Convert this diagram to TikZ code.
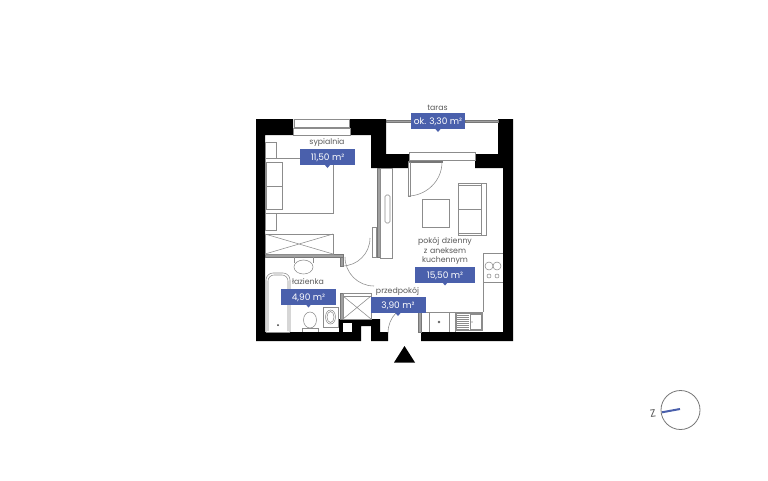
\documentclass[tikz,border=0pt]{standalone}
\usepackage{fontspec}
\setmainfont{Poppins}
\definecolor{lblue}{HTML}{4A60AC}
\definecolor{ltext}{HTML}{5A5A5A}
\definecolor{fur}{HTML}{8C8C8C}
\definecolor{partw}{HTML}{777777}
\tikzset{
  wall/.style={fill=black,draw=none},
  partition/.style={fill=partw!70!white,draw=partw,line width=.4pt},
  leaf/.style={fill=white,draw=fur,line width=.55pt},
  furn/.style={draw=fur,line width=.55pt,fill=none},
  glass/.style={draw=fur,line width=.6pt,fill=white},
  roomname/.style={text=ltext,font=\fontsize{7.8}{9.6}\selectfont,align=center,inner sep=0pt},
  areabox/.style={fill=lblue,text=white,font=\fontsize{9}{10}\selectfont,inner sep=0pt,minimum height=16pt,text depth=0pt},
  pointer/.style={fill=lblue,draw=none}
}
\newcommand{\areatag}[5]{% name, x center, y top, width, text
  \node[areabox,minimum width=#4pt,anchor=north] (#1) at (#2,#3) {#5};
  \fill[pointer] (#2-3,#3+15.5) -- (#2+3,#3+15.5) -- (#2,#3+19) -- cycle;
}
\begin{document}
\begin{tikzpicture}[x=1pt,y=-1pt]
\useasboundingbox (0,0) rectangle (768,480);
\fill[white] (0,0) rectangle (768,480);

% ---- outer walls
\fill[wall] (256,119) -- (293,119) -- (293,135) -- (265,135) -- (265,332) -- (339,332) -- (339,319) -- (380,319) -- (380,332) -- (388,332) -- (388,341) -- (371,341) -- (371,326) -- (361,326) -- (361,341) -- (256,341) -- cycle;
\fill[wall] (350,119) -- (386,119) -- (386,154) -- (409,154) -- (409,168) -- (378,168) -- (371,168) -- (371,135) -- (350,135) -- cycle;
\fill[wall] (475,154) -- (498,154) -- (498,119) -- (513,119) -- (513,341) -- (421,341) -- (421,332) -- (503,332) -- (503,168) -- (475,168) -- cycle;
\fill[white] (343,323) rectangle (352,332);

% ---- windows
\draw[glass] (294,119) rectangle (349,127);
\draw[glass] (293,128) rectangle (350,135);
\draw[glass] (409,152.5) rectangle (475,160);
\draw[partition] (408,161) rectangle (442,162);
% terrace rail
\draw[partition] (386,120) rectangle (412,122);
\draw[partition] (465,120) rectangle (498,122);

% ---- partitions
\draw[partition] (377,168) rectangle (380,257);
\draw[partition] (265,254.5) rectangle (343,257);
\draw[partition] (340,257) rectangle (343,266);
\draw[partition] (340,293) rectangle (343,319);
\draw[leaf] (343,293) rectangle (371,296);
\draw[leaf] (372.5,227) rectangle (376,257);
\draw[partition] (418,312) rectangle (421,332);
\draw[leaf] (408,162) rectangle (410.5,196);

% ---- doors
\draw[furn] (345,257) arc[start angle=180,end angle=90,radius=29] ;
\draw[furn] (342,266) arc[start angle=90,end angle=0,radius=28];
\draw[furn] (408,196) .. controls (425,196) and (442,182) .. (442,162);
\draw[furn] (388,333) .. controls (388,325) and (391,318) .. (396,313);

% ---- bedroom
\draw[furn] (265,158) rectangle (333,213);
\draw[furn] (266,162) rectangle (282,186);
\draw[furn] (266,186) rectangle (282,209);
\draw[furn] (265,142) rectangle (276,158);
\draw[furn] (265,213) rectangle (276,230);
\draw[furn] (265,234) rectangle (333,254);
\draw[furn] (265,234) -- (333,254) (265,254) -- (333,234);

% ---- wardrobe at the partition
\draw[furn] (380,168) rectangle (392,258);
\draw[furn,rounded corners=1.5pt] (385,195) rectangle (390,223);

% ---- living room
\draw[furn] (422,199) rectangle (449,227);
\draw[furn] (458,183) rectangle (486,235);
\draw[furn] (481,183) -- (481,235);
\draw[furn] (458,209) -- (481,209);
\draw[furn] (458,185) -- (481,185);
\draw[furn] (458,233) -- (481,233);

% ---- kitchen
\draw[furn] (483,253) -- (503,253);
\draw[furn] (483,253) -- (483,312);
\draw[furn] (483,282) -- (503,282);
\draw[furn] (421,312) -- (483,312);
\draw[furn] (429,312) -- (429,332);
\draw[furn] (449,312) -- (449,332);
\draw[furn] (455,312) -- (455,332);
\draw[furn] (489,266) circle[radius=4];
\draw[furn] (497,266) circle[radius=4];
\draw[furn] (489,276) circle[radius=2];
\draw[furn] (497,276) circle[radius=2];
\fill[fur!70!black] (439,322) circle[radius=1.3];
\draw[furn] (456,313) rectangle (482,330);
\draw[furn] (470,314.5) rectangle (481,329);
\foreach \ry in {315,317,...,329}{\draw[furn] (457,\ry) -- (469,\ry);}
\fill[fur!60!black] (472,322) circle[radius=.7];

% ---- bathroom
\draw[furn] (294,257) -- (294,263) (313,257) -- (313,263);
\draw[furn] (303.5,267) ellipse[x radius=9.5,y radius=7];
\draw[furn,rounded corners=7pt] (266,332) -- (266,273) -- (290,273) -- (290,332);
\draw[furn,rounded corners=6pt] (268,331) -- (268,275) -- (288,275) -- (288,331);
\draw[furn] (266,332) -- (290,332);
\fill[fur!40!black] (278,325) circle[radius=1];
\draw[furn] (310,320) ellipse[x radius=6.5,y radius=8];
\draw[furn] (302,332) -- (302,328) -- (318,328) -- (318,332);
\draw[furn] (323,307) rectangle (338,327);
\draw[furn] (330.5,317) ellipse[x radius=5,y radius=7];
\draw[furn] (330.5,317) ellipse[x radius=3.5,y radius=5.5];

% ---- hall closet
\draw[furn] (343,296) rectangle (371,319);
\draw[furn] (343,296) -- (371,319) (343,319) -- (371,296);

% ---- labels
\node[roomname] (tSyp) at (327,143) {sypialnia};
\areatag{aSyp}{327.5}{149}{55}{11,50 m²}
\node[roomname] (tTar) at (437.5,108) {taras};
\areatag{aTar}{438}{113}{54}{ok. 3,30 m²}
\node[roomname] (tLaz) at (308,282) {łazienka};
\areatag{aLaz}{308.5}{288.5}{55}{4,90 m²}
\node[roomname] (tPrz) at (397.5,291) {przedpokój};
\areatag{aPrz}{398}{297}{55}{3,90 m²}
\node[roomname,text width=70pt] (tPok) at (445,251) {pokój dzienny\\z aneksem\\kuchennym};
\areatag{aPok}{445}{266.5}{60}{15,50 m²}

% ---- entrance arrow
\fill[black] (404.5,346) -- (415,362.5) -- (394,362.5) -- cycle;

% ---- compass
\node[draw=fur!85!black,line width=.8pt,circle,minimum size=39pt,inner sep=0pt] (comp) at (680.5,410) {};
\coordinate (compW) at (662,412.3);
\draw[draw=lblue,line width=2pt] (compW) -- (680,409);
\node[text=ltext,font=\fontsize{10.5}{11}\selectfont,rotate=8,inner sep=0pt] (compZ) at (653,413) {Z};
\end{tikzpicture}
\end{document}
